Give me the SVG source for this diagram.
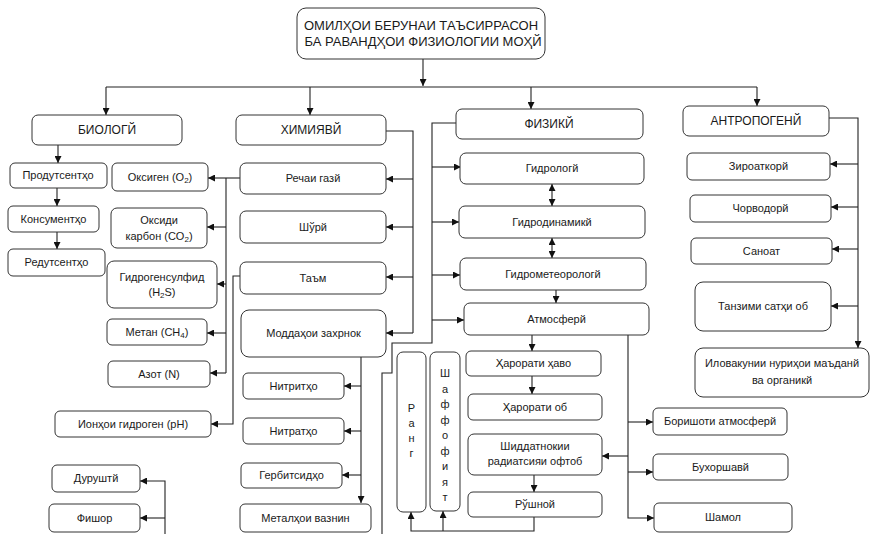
<svg xmlns="http://www.w3.org/2000/svg" width="871" height="534" viewBox="0 0 871 534">
<defs>
<marker id="ar" markerUnits="userSpaceOnUse" markerWidth="8" markerHeight="7" refX="7" refY="3.5" orient="auto-start-reverse">
<path d="M0,0 L7,3.5 L0,7 z" fill="#111"/>
</marker>
<style>
.n rect{fill:#fff;stroke:#333;stroke-width:1}
.n text{font-family:"Liberation Sans",Arial,sans-serif;font-size:11px;fill:#1a1a1a;text-anchor:middle}
.n text.h{font-size:12px}
.n text.t{font-size:13px}
.c path{fill:none;stroke:#222;stroke-width:1.1}
.c path.a{marker-end:url(#ar)}
.c path.d{marker-end:url(#ar);marker-start:url(#ar)}
.s{font-size:8px}
</style>
</defs>
<rect width="871" height="534" fill="#fff"/>
<g class="c" id="connectors">
<path d="M423,59 V86" class="a"/>
<path d="M106,87 H757"/>
<path d="M106,87 V115" class="a"/>
<path d="M310,87 V115" class="a"/>
<path d="M531,87 V109" class="a"/>
<path d="M757,87 V106" class="a"/>
<path d="M58,145 V163" class="a"/>
<path d="M57,188 V206" class="a"/>
<path d="M57,232 V249" class="a"/>
<path d="M386,131 H413 V333"/>
<path d="M413,179 H386" class="a"/>
<path d="M413,227 H386" class="a"/>
<path d="M413,277 H386" class="a"/>
<path d="M413,333 H386" class="a"/>
<path d="M240,178 H208" class="a"/>
<path d="M226,178 V373"/>
<path d="M226,227 H207" class="a"/>
<path d="M226,284 H217" class="a"/>
<path d="M226,333 H207" class="a"/>
<path d="M226,373 H210" class="a"/>
<path d="M240,276 H233 V424 H211" class="a"/>
<path d="M361,357 V503" class="a"/>
<path d="M361,386 H344" class="a"/>
<path d="M361,431 H344" class="a"/>
<path d="M361,475 H342" class="a"/>
<path d="M165,534 V481 H140" class="a"/>
<path d="M165,518 H140" class="a"/>
<path d="M456,123 H432 V343 H392 V373 H382 V534"/>
<path d="M432,167 H461" class="a"/>
<path d="M432,222 H459" class="a"/>
<path d="M432,275 H460" class="a"/>
<path d="M432,320 H464" class="a"/>
<path d="M552,184 V206" class="d"/>
<path d="M552,238 V258" class="d"/>
<path d="M556,290 V303" class="a"/>
<path d="M532,335 V351" class="a"/>
<path d="M532,376 V394" class="a"/>
<path d="M534,475 V492" class="a"/>
<path d="M534,517 V531 H411 V512" class="a"/>
<path d="M443,531 V511" class="a"/>
<path d="M628,335 V518 H654" class="a"/>
<path d="M628,422 H653" class="a"/>
<path d="M628,472 H653" class="a"/>
<path d="M628,456 H602" class="a"/>
<path d="M829,118 H858 V348" class="a"/>
<path d="M858,164 H830" class="a"/>
<path d="M858,207 H831" class="a"/>
<path d="M858,249 H832" class="a"/>
<path d="M858,306 H831" class="a"/>
</g>
<g class="n" id="root"><rect x="297" y="8" width="248" height="51" rx="9"/><text class="t" x="421" y="30">ОМИЛҲОИ БЕРУНАИ ТАЪСИРРАСОН</text><text class="t" x="423" y="46">БА РАВАНДҲОИ ФИЗИОЛОГИИ МОҲЙ</text></g>
<g class="n" id="biologi"><rect x="32" y="115" width="150" height="30" rx="6"/><text class="h" x="107" y="134">БИОЛОГЙ</text></g>
<g class="n" id="kimiyavi"><rect x="236" y="115" width="150" height="30" rx="6"/><text class="h" x="311" y="134">ХИМИЯВЙ</text></g>
<g class="n" id="fiziki"><rect x="456" y="109" width="187" height="30" rx="6"/><text class="h" x="549" y="128">ФИЗИКЙ</text></g>
<g class="n" id="antropogeni"><rect x="683" y="106" width="146" height="30" rx="6"/><text class="h" x="756" y="125">АНТРОПОГЕНЙ</text></g>
<g class="n" id="produtsent"><rect x="10" y="163" width="97" height="25" rx="5"/><text x="58" y="179">Продутсентҳо</text></g>
<g class="n" id="konsument"><rect x="8" y="206" width="91" height="26" rx="5"/><text x="53.5" y="223">Консументҳо</text></g>
<g class="n" id="redutsent"><rect x="8" y="249" width="97" height="27" rx="5"/><text x="56.5" y="266">Редутсентҳо</text></g>
<g class="n" id="oksigen"><rect x="112" y="163" width="96" height="28" rx="5"/><text x="160" y="181">Оксиген (O<tspan class="s" dy="2">2</tspan><tspan dy="-2">)</tspan></text></g>
<g class="n" id="oksidi"><rect x="111" y="208" width="96" height="40" rx="6"/><text x="159" y="224">Оксиди</text><text x="159" y="240">карбон (CO<tspan class="s" dy="2">2</tspan><tspan dy="-2">)</tspan></text></g>
<g class="n" id="h2s"><rect x="107" y="261" width="110" height="47" rx="7"/><text x="162" y="281">Гидрогенсулфид</text><text x="162" y="296">(H<tspan class="s" dy="2">2</tspan><tspan dy="-2">S)</tspan></text></g>
<g class="n" id="metan"><rect x="107" y="319" width="100" height="26" rx="5"/><text x="157" y="336">Метан (CH<tspan class="s" dy="2">4</tspan><tspan dy="-2">)</tspan></text></g>
<g class="n" id="azot"><rect x="108" y="361" width="102" height="26" rx="5"/><text x="159" y="378">Азот (N)</text></g>
<g class="n" id="ionhoi"><rect x="55" y="411" width="156" height="26" rx="5"/><text x="133" y="428">Ионҳои гидроген (pH)</text></g>
<g class="n" id="rechai"><rect x="240" y="163" width="146" height="31" rx="6"/><text x="313" y="182">Речаи газй</text></g>
<g class="n" id="shuri"><rect x="240" y="211" width="146" height="32" rx="6"/><text x="313" y="231">Шўрй</text></g>
<g class="n" id="taam"><rect x="240" y="262" width="146" height="32" rx="6"/><text x="313" y="282">Таъм</text></g>
<g class="n" id="moddahoi"><rect x="241" y="310" width="145" height="47" rx="8"/><text x="313.5" y="337">Моддаҳои захрнок</text></g>
<g class="n" id="nitrit"><rect x="243" y="373" width="101" height="26" rx="5"/><text x="293.5" y="390">Нитритҳо</text></g>
<g class="n" id="nitrat"><rect x="243" y="418" width="101" height="26" rx="5"/><text x="293.5" y="435">Нитратҳо</text></g>
<g class="n" id="gerbitsid"><rect x="241" y="463" width="101" height="25" rx="5"/><text x="291.5" y="479">Гербитсидҳо</text></g>
<g class="n" id="metalhoi"><rect x="240" y="504" width="131" height="28" rx="5"/><text x="305.5" y="522">Металҳои вазнин</text></g>
<g class="n" id="durushti"><rect x="52" y="465" width="88" height="27" rx="5"/><text x="96" y="482">Дуруштй</text></g>
<g class="n" id="fishor"><rect x="49" y="504" width="91" height="28" rx="5"/><text x="94.5" y="522">Фишор</text></g>
<g class="n" id="gidrologi"><rect x="460" y="153" width="184" height="31" rx="6"/><text x="552" y="172">Гидрологй</text></g>
<g class="n" id="gidrodinamiki"><rect x="459" y="206" width="186" height="32" rx="6"/><text x="552" y="226">Гидродинамикй</text></g>
<g class="n" id="gidrometeorologi"><rect x="460" y="258" width="186" height="32" rx="6"/><text x="553" y="278">Гидрометеорологй</text></g>
<g class="n" id="atmosferi"><rect x="464" y="303" width="185" height="32" rx="6"/><text x="556.5" y="323">Атмосферй</text></g>
<g class="n" id="rang"><rect x="397" y="352" width="29" height="160" rx="6"/><text x="411.5" y="412">Р</text><text x="411.5" y="427">а</text><text x="411.5" y="442">н</text><text x="411.5" y="457">г</text></g>
<g class="n" id="shaffofiyat"><rect x="430" y="352" width="30" height="159" rx="6"/><text x="445" y="377">Ш</text><text x="445" y="392.5">а</text><text x="445" y="408">ф</text><text x="445" y="423.5">ф</text><text x="445" y="439">о</text><text x="445" y="454.5">ф</text><text x="445" y="470">и</text><text x="445" y="485.5">я</text><text x="445" y="501">т</text></g>
<g class="n" id="harorati-havo"><rect x="466" y="351" width="135" height="25" rx="5"/><text x="533.5" y="367">Ҳарорати ҳаво</text></g>
<g class="n" id="harorati-ob"><rect x="468" y="394" width="134" height="26" rx="5"/><text x="535" y="411">Ҳарорати об</text></g>
<g class="n" id="shiddatnokii"><rect x="468" y="434" width="134" height="41" rx="6"/><text x="535" y="450">Шиддатнокии</text><text x="535" y="465">радиатсияи офтоб</text></g>
<g class="n" id="rushnoi"><rect x="468" y="492" width="134" height="25" rx="5"/><text x="535" y="508">Рўшной</text></g>
<g class="n" id="borishoti"><rect x="653" y="408" width="134" height="27" rx="5"/><text x="720" y="425">Боришоти атмосферй</text></g>
<g class="n" id="buxorshavi"><rect x="653" y="454" width="135" height="26" rx="5"/><text x="720.5" y="471">Бухоршавй</text></g>
<g class="n" id="shamol"><rect x="654" y="503" width="138" height="29" rx="5"/><text x="723" y="521">Шамол</text></g>
<g class="n" id="ziroatkori"><rect x="687" y="153" width="143" height="27" rx="5"/><text x="758.5" y="170">Зироаткорй</text></g>
<g class="n" id="chorvodori"><rect x="690" y="195" width="141" height="27" rx="5"/><text x="760.5" y="212">Чорводорй</text></g>
<g class="n" id="sanoat"><rect x="691" y="238" width="141" height="26" rx="5"/><text x="761.5" y="255">Саноат</text></g>
<g class="n" id="tanzimi"><rect x="695" y="282" width="136" height="49" rx="8"/><text x="763" y="310">Танзими сатҳи об</text></g>
<g class="n" id="ilovakunii"><rect x="695" y="348" width="174" height="49" rx="8"/><text x="782" y="367">Иловакунии нуриҳои маъданй</text><text x="782" y="384">ва органикй</text></g>
</svg>
